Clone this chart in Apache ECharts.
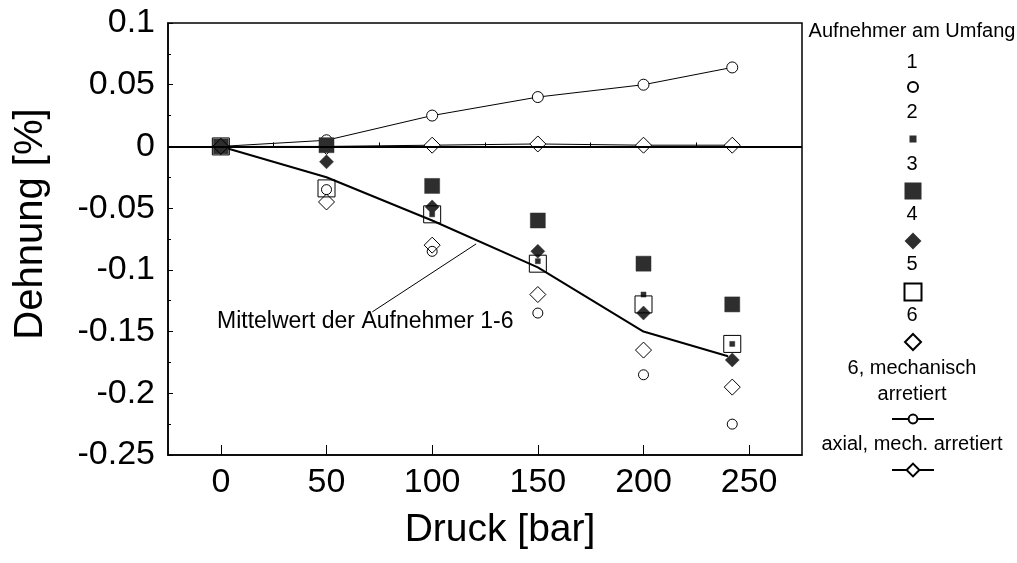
<!DOCTYPE html>
<html>
<head>
<meta charset="utf-8">
<script src="https://cdn.jsdelivr.net/npm/echarts@6/dist/echarts.min.js"></script>
<style>html,body{margin:0;padding:0;background:#fff}#c{width:1017px;height:563px}</style>
</head>
<body>
<div id="c"></div>
<script>
// ---- data ----
const pressure = [0, 50, 100, 150, 200, 242];
const sensor1 = [0, -0.035, -0.085, -0.135, -0.185, -0.225];
const sensor2 = [0, 0, -0.055, -0.093, -0.12, -0.16];
const sensor3 = [0, 0.001, -0.032, -0.06, -0.095, -0.128];
const sensor4 = [0, -0.0125, -0.049, -0.085, -0.135, -0.173];
const sensor5 = [0, -0.034, -0.055, -0.095, -0.128, -0.16];
const sensor6 = [0, -0.045, -0.08, -0.12, -0.165, -0.195];
const mech6 = [0, 0.005, 0.025, 0.04, 0.05, 0.064];
const axialMech = [0, 0, 0.001, 0.002, 0.001, 0.001];
const meanX = [0, 50, 100, 150, 200, 240];
const meanY = [0, -0.025, -0.06, -0.098, -0.15, -0.17];
const leaderLine = [[71.7, -0.134], [120.8, -0.079]];
const xMajorTicks = [0, 50, 100, 150, 200, 250];
const xMinorTicks = [25, 75, 125, 175, 225];
const seriesNames = ['1', '2', '3', '4', '5', '6', '6, mechanisch arretiert', 'axial, mech. arretiert'];
const legendTitle = 'Aufnehmer am Umfang';
const annotationText = 'Mittelwert der Aufnehmer 1-6';

const zip = (xs, ys) => xs.map((x, i) => [x, ys[i]]);
const FONT = '"Liberation Sans", Arial, sans-serif';
const DARK = '#2e2e2e';
const openStyle = { color: 'rgba(0,0,0,0)', borderColor: '#000', borderWidth: 1, opacity: 1 };
const fillStyle = { color: DARK, borderColor: DARK, borderWidth: 0.5, opacity: 1 };

function scatter(name, data, symbol, size, style) {
  return { name, type: 'scatter', data, symbol, symbolSize: size, itemStyle: style,
           emphasis: { disabled: true }, z: 3 };
}

const series = [
  { name: 'mean', type: 'line', data: zip(meanX, meanY), showSymbol: false, symbol: 'none',
    lineStyle: { color: '#000', width: 2 }, emphasis: { disabled: true }, z: 2,
    markLine: { silent: true, symbol: 'none', label: { show: false },
      lineStyle: { color: '#000', width: 1, type: 'solid' },
      data: [[{ coord: leaderLine[0] }, { coord: leaderLine[1] }]] } },
  { name: seriesNames[7], type: 'line', data: zip(pressure, axialMech), symbol: 'diamond', symbolSize: 16,
    itemStyle: { color: '#fff', borderColor: '#000', borderWidth: 1 },
    lineStyle: { color: '#000', width: 1 }, emphasis: { disabled: true }, z: 2,
    markLine: { silent: true, symbol: 'none', label: { show: false },
      lineStyle: { color: '#000', width: 2, type: 'solid' }, data: [{ yAxis: 0 }] } },
  { name: seriesNames[6], type: 'line', data: zip(pressure, mech6), symbol: 'circle', symbolSize: 11,
    itemStyle: { color: '#fff', borderColor: '#000', borderWidth: 1 },
    lineStyle: { color: '#000', width: 1 }, emphasis: { disabled: true }, z: 2 },
  scatter(seriesNames[0], zip(pressure, sensor1), 'circle', 10, openStyle),
  scatter(seriesNames[1], zip(pressure, sensor2), 'rect', 5, fillStyle),
  scatter(seriesNames[2], zip(pressure, sensor3), 'rect', 15, fillStyle),
  scatter(seriesNames[3], zip(pressure, sensor4), 'diamond', 14, fillStyle),
  scatter(seriesNames[4], zip(pressure, sensor5), 'rect', 17, openStyle),
  scatter(seriesNames[5], zip(pressure, sensor6), 'diamond', 16, openStyle)
];

// legend layout: [series name, centerY, width, height]
const LX = 912;
const legendIcons = [
  [seriesNames[0], 86, 10, 10],
  [seriesNames[1], 138, 5, 5],
  [seriesNames[2], 190, 15, 15],
  [seriesNames[3], 240, 14, 14],
  [seriesNames[4], 291, 17, 17],
  [seriesNames[5], 341, 16, 16],
  [seriesNames[6], 419, 42, 11],
  [seriesNames[7], 470, 42, 16]
];
const legendLabels = [
  [legendTitle, 31], ['1', 62], ['2', 112], ['3', 164], ['4', 214], ['5', 264], ['6', 315],
  ['6, mechanisch', 368], ['arretiert', 394], ['axial, mech. arretiert', 444]
];

const legends = legendIcons.map(([name, cy, w, h]) => ({
  data: [name], left: LX - w / 2, top: cy - h / 2, itemWidth: w, itemHeight: h,
  padding: 0, itemGap: 0, formatter: () => '', selectedMode: false,
  textStyle: { fontSize: 1 }
}));

const graphics = legendLabels.map(([t, cy]) => ({
  type: 'text', x: LX, y: cy,
  style: { text: t, fill: '#000', font: '20px ' + FONT, align: 'center', verticalAlign: 'middle' }
}));
graphics.push({ type: 'text', x: 31, y: 224, rotation: Math.PI / 2,
  style: { text: 'Dehnung [%]', fill: '#000', font: '40px ' + FONT, align: 'center', verticalAlign: 'middle' } });
graphics.push({ type: 'text', x: 217, y: 322,
  style: { text: annotationText, fill: '#000', font: '23px ' + FONT, align: 'left', verticalAlign: 'middle' } });

const chart = echarts.init(document.getElementById('c'), null, { renderer: 'canvas' });
chart.setOption({
  animation: false,
  backgroundColor: '#fff',
  grid: { left: 168, right: 215, top: 23, bottom: 108, show: true, borderColor: '#000', borderWidth: 1.5, containLabel: false },
  legend: legends,
  xAxis: [{
    type: 'value', min: -25, max: 275,
    name: 'Druck [bar]', nameLocation: 'middle', nameGap: 56,
    nameTextStyle: { fontSize: 39, fontFamily: FONT, color: '#000', padding: [0, 0, 0, 30] },
    axisLine: { show: true, onZero: false, lineStyle: { color: '#000', width: 1.5 } },
    axisTick: { show: true, inside: true, length: 10, customValues: xMajorTicks, lineStyle: { color: '#000', width: 1 } },
    axisLabel: { customValues: xMajorTicks, fontSize: 34, fontFamily: FONT, color: '#000', margin: 11 },
    splitLine: { show: false }
  }, {
    type: 'value', min: -25, max: 275, position: 'bottom',
    axisLine: { show: false },
    axisTick: { show: true, inside: true, length: 4, customValues: xMinorTicks, lineStyle: { color: '#000', width: 1 } },
    axisLabel: { show: false }, splitLine: { show: false }
  }],
  yAxis: {
    type: 'value', min: -0.25, max: 0.1, interval: 0.05,
    axisLine: { show: true, onZero: false, lineStyle: { color: '#000', width: 1.5 } },
    axisTick: { show: true, inside: true, length: 5, lineStyle: { color: '#000' } },
    minorTick: { show: true, splitNumber: 2, length: 3, lineStyle: { color: '#000' } },
    axisLabel: { fontSize: 34, fontFamily: FONT, color: '#000', margin: 13,
      formatter: v => String(Math.round(v * 100) / 100) },
    splitLine: { show: false }
  },
  series,
  graphic: graphics
});
</script>
</body>
</html>
